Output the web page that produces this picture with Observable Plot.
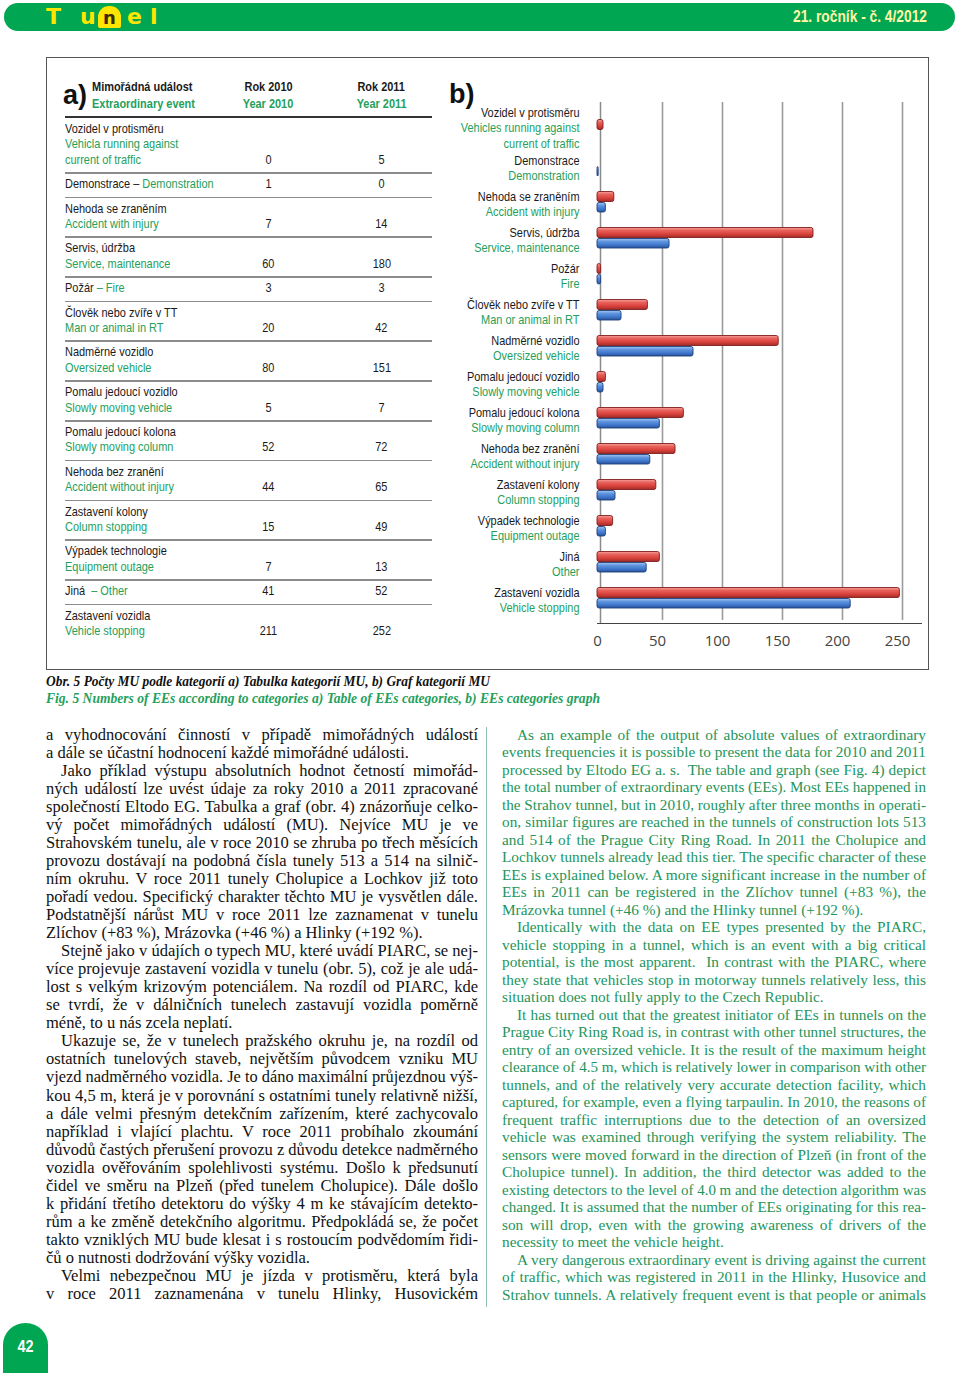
<!DOCTYPE html>
<html><head><meta charset="utf-8">
<script src="https://cdn.jsdelivr.net/npm/d3@7"></script>
<script src="https://cdn.jsdelivr.net/npm/@observablehq/plot@0.6"></script>
<style>
body{margin:0;background:#fff;}
#page{position:relative;width:960px;height:1373px;overflow:hidden;font-family:"Liberation Sans",Arial,sans-serif;}
.abs{position:absolute;white-space:nowrap;}
</style></head><body><div id="page"></div>
<script>
// ---------------- DATA ----------------
const categoriesCz = ["Vozidel v protisměru","Demonstrace","Nehoda se zraněním","Servis, údržba","Požár","Člověk nebo zvíře v TT","Nadměrné vozidlo","Pomalu jedoucí vozidlo","Pomalu jedoucí kolona","Nehoda bez zranění","Zastavení kolony","Výpadek technologie","Jiná","Zastavení vozidla"];
const categoriesEn = ["Vehicles running against\ncurrent of traffic","Demonstration","Accident with injury","Service, maintenance","Fire","Man or animal in RT","Oversized vehicle","Slowly moving vehicle","Slowly moving column","Accident without injury","Column stopping","Equipment outage","Other","Vehicle stopping"];
const tableCz = ["Vozidel v protisměru","Demonstrace – ","Nehoda se zraněním","Servis, údržba","Požár ","Člověk nebo zvíře v TT","Nadměrné vozidlo","Pomalu jedoucí vozidlo","Pomalu jedoucí kolona","Nehoda bez zranění","Zastavení kolony","Výpadek technologie","Jiná  ","Zastavení vozidla"];
const tableEn = ["Vehicla running against\ncurrent of traffic","Demonstration","Accident with injury","Service, maintenance","– Fire","Man or animal in RT","Oversized vehicle","Slowly moving vehicle","Slowly moving column","Accident without injury","Column stopping","Equipment outage","– Other","Vehicle stopping"];
const tableInline = [1,4,12];
const values2010 = [0,1,7,60,3,20,80,5,52,44,15,7,41,211];
const values2011 = [5,0,14,180,3,42,151,7,72,65,49,13,52,252];
const xTicks = [0,50,100,150,200,250];

const leftLines = [
"a vyhodnocování činností v případě mimořádných událostí",
"a dále se účastní hodnocení každé mimořádné události.",
"Jako příklad výstupu absolutních hodnot četností mimořád-",
"ných událostí lze uvést údaje za roky 2010 a 2011 zpracované",
"společností Eltodo EG. Tabulka a graf (obr. 4) znázorňuje celko-",
"vý počet mimořádných událostí (MU). Nejvíce MU je ve",
"Strahovském tunelu, ale v roce 2010 se zhruba po třech měsících",
"provozu dostávají na podobná čísla tunely 513 a 514 na silnič-",
"ním okruhu. V roce 2011 tunely Cholupice a Lochkov již toto",
"pořadí vedou. Specifický charakter těchto MU je vysvětlen dále.",
"Podstatnější nárůst MU v roce 2011 lze zaznamenat v tunelu",
"Zlíchov (+83 %), Mrázovka (+46 %) a Hlinky (+192 %).",
"Stejně jako v údajích o typech MU, které uvádí PIARC, se nej-",
"více projevuje zastavení vozidla v tunelu (obr. 5), což je ale udá-",
"lost s velkým krizovým potenciálem. Na rozdíl od PIARC, kde",
"se tvrdí, že v dálničních tunelech zastavují vozidla poměrně",
"méně, to u nás zcela neplatí.",
"Ukazuje se, že v tunelech pražského okruhu je, na rozdíl od",
"ostatních tunelových staveb, největším původcem vzniku MU",
"vjezd nadměrného vozidla. Je to dáno maximální průjezdnou výš-",
"kou 4,5 m, která je v porovnání s ostatními tunely relativně nižší,",
"a dále velmi přesným detekčním zařízením, které zachycovalo",
"například i vlající plachtu. V roce 2011 probíhalo zkoumání",
"důvodů častých přerušení provozu z důvodu detekce nadměrného",
"vozidla ověřováním spolehlivosti systému. Došlo k předsunutí",
"čidel ve směru na Plzeň (před tunelem Cholupice). Dále došlo",
"k přidání třetího detektoru do výšky 4 m ke stávajícím detekto-",
"rům a ke změně detekčního algoritmu. Předpokládá se, že počet",
"takto vzniklých MU bude klesat i s rostoucím podvědomím řidi-",
"čů o nutnosti dodržování výšky vozidla.",
"Velmi nebezpečnou MU je jízda v protisměru, která byla",
"v roce 2011 zaznamenána v tunelu Hlinky, Husovickém"];
const leftIndent = [2,12,17,30], leftEnd = [1,11,16,29];
const rightLines = [
"As an example of the output of absolute values of extraordinary",
"events frequencies it is possible to present the data for 2010 and 2011",
"processed by Eltodo EG a. s.  The table and graph (see Fig. 4) depict",
"the total number of extraordinary events (EEs). Most EEs happened in",
"the Strahov tunnel, but in 2010, roughly after three months in operati-",
"on, similar figures are reached in the tunnels of construction lots 513",
"and 514 of the Prague City Ring Road. In 2011 the Cholupice and",
"Lochkov tunnels already lead this tier. The specific character of these",
"EEs is explained below. A more significant increase in the number of",
"EEs in 2011 can be registered in the Zlíchov tunnel (+83 %), the",
"Mrázovka tunnel (+46 %) and the Hlinky tunnel (+192 %).",
"Identically with the data on EE types presented by the PIARC,",
"vehicle stopping in a tunnel, which is an event with a big critical",
"potential, is the most apparent.  In contrast with the PIARC, where",
"they state that vehicles stop in motorway tunnels relatively less, this",
"situation does not fully apply to the Czech Republic.",
"It has turned out that the greatest initiator of EEs in tunnels on the",
"Prague City Ring Road is, in contrast with other tunnel structures, the",
"entry of an oversized vehicle. It is the result of the maximum height",
"clearance of 4.5 m, which is relatively lower in comparison with other",
"tunnels, and of the relatively very accurate detection facility, which",
"captured, for example, even a flying tarpaulin. In 2010, the reasons of",
"frequent traffic interruptions due to the detection of an oversized",
"vehicle was examined through verifying the system reliability. The",
"sensors were moved forward in the direction of Plzeň (in front of the",
"Cholupice tunnel). In addition, the third detector was added to the",
"existing detectors to the level of 4.0 m and the detection algorithm was",
"changed. It is assumed that the number of EEs originating for this rea-",
"son will drop, even with the growing awareness of drivers of the",
"necessity to meet the vehicle height.",
"A very dangerous extraordinary event is driving against the current",
"of traffic, which was registered in 2011 in the Hlinky, Husovice and",
"Strahov tunnels. A relatively frequent event is that people or animals"];
const rightIndent = [0,11,16,30], rightEnd = [10,15,29];

// ---------------- STYLE ----------------
const GREEN = "#00a651";
const TXT_GREEN = "#25a05c";
const BLACK = "#1a1a1a";
const LBL_FONT = '"Liberation Sans Narrow","Arial Narrow","Liberation Sans",Arial,sans-serif';
const ctx = document.createElement("canvas").getContext("2d");
ctx.font = `13px ${LBL_FONT}`;
const nf = Math.min(1.1, 109 / ctx.measureText("Accident without injury").width);

const page = document.getElementById("page");
function el(tag, css, txt, parent = page) {
  const d = document.createElement(tag);
  if (tag === "div") d.className = "abs";
  Object.assign(d.style, css);
  if (txt != null) d.textContent = txt;
  parent.appendChild(d);
  return d;
}
function fit(span, target) {
  const w = span.getBoundingClientRect().width;
  span.style.transform = `scaleX(${target / w})`;
}

// ---------------- HEADER ----------------
el("div", {left: "4px", top: "3px", width: "951px", height: "28px", borderRadius: "14px", background: GREEN});
const logoCss = {top: "5px", fontFamily: '"DejaVu Sans",sans-serif', fontWeight: "bold", fontSize: "22px", lineHeight: "24px", color: "#ffe600"};
el("div", {...logoCss, left: "46px"}, "T");
el("div", {...logoCss, left: "80px"}, "u");
const nbox = el("div", {left: "98px", top: "6px", width: "23px", height: "22px", borderRadius: "11px 11px 2px 2px", background: "#ffe600", textAlign: "center"});
el("span", {fontFamily: '"DejaVu Sans",sans-serif', fontWeight: "bold", fontSize: "18px", lineHeight: "24px", color: "#3d2b0a"}, "n", nbox);
el("div", {...logoCss, left: "127px"}, "e");
el("div", {...logoCss, left: "150px"}, "l");
const hdr = el("div", {left: "793px", top: "6px", fontSize: "17px", lineHeight: "22px", fontWeight: "bold", color: "#fff8a8"});
const hdrSpan = el("span", {display: "inline-block", transformOrigin: "0 0"}, "21. ročník - č. 4/2012", hdr);
fit(hdrSpan, 134);

// ---------------- FRAME ----------------
el("div", {left: "46px", top: "57px", width: "881px", height: "611px", border: "1px solid #555"});

// ---------------- TABLE (a) ----------------
function lbl(txt, x, cy, opts = {}) {
  const d = el("div", {left: x + "px", top: (cy - 8) + "px", fontFamily: LBL_FONT, fontSize: "13px", lineHeight: "16px",
    color: opts.color || BLACK, fontWeight: opts.bold ? "bold" : "normal"});
  const s = el("span", {display: "inline-block", transform: `scaleX(${nf})`, transformOrigin: "0 0", whiteSpace: "pre"}, null, d);
  if (opts.parts) opts.parts.forEach(p => el("span", {color: p.c}, p.t, s)); else s.textContent = txt;
  return d;
}
function num(txt, cx, cy, opts = {}) {
  const d = el("div", {left: (cx - 40) + "px", width: "80px", textAlign: "center", top: (cy - 8) + "px", fontFamily: LBL_FONT,
    fontSize: "13px", lineHeight: "16px", color: opts.color || BLACK, fontWeight: opts.bold ? "bold" : "normal"});
  el("span", {display: "inline-block", transform: `scaleX(${nf})`, transformOrigin: "50% 0"}, txt, d);
}
el("div", {left: "63px", top: "80px", fontFamily: '"Liberation Sans",Arial,sans-serif', fontSize: "27px", lineHeight: "30px", fontWeight: "bold", color: "#111"}, "a)");
lbl("Mimořádná událost", 92, 87, {bold: true});
lbl("Extraordinary event", 92, 104, {bold: true, color: TXT_GREEN});
num("Rok 2010", 268.5, 87, {bold: true});
num("Year 2010", 268.5, 104, {bold: true, color: TXT_GREEN});
num("Rok 2011", 381.5, 87, {bold: true});
num("Year 2011", 381.5, 104, {bold: true, color: TXT_GREEN});
el("div", {left: "65px", top: "116px", width: "367px", height: "2px", background: "#333"});
let rowTop = 118;
tableCz.forEach((cz, i) => {
  let lines;
  if (tableInline.includes(i)) {
    lines = [{parts: [{t: cz, c: BLACK}, {t: tableEn[i], c: TXT_GREEN}]}];
  } else {
    lines = [{t: cz, c: BLACK}, ...tableEn[i].split("\n").map(t => ({t, c: TXT_GREEN}))];
  }
  const n = lines.length;
  lines.forEach((ln, k) => {
    const cy = rowTop + 11 + 15.4 * k;
    if (ln.parts) lbl(null, 65, cy, {parts: ln.parts}); else lbl(ln.t, 65, cy, {color: ln.c});
  });
  const lastCy = rowTop + 11 + 15.4 * (n - 1);
  num(String(values2010[i]), 268.5, lastCy);
  num(String(values2011[i]), 381.5, lastCy);
  const h = 9 + 15.4 * n;
  rowTop += h;
  if (i < tableCz.length - 1) el("div", {left: "65px", top: (rowTop - 1) + "px", width: "367px", height: "1.6px", background: "#8c8c8c"});
});

// ---------------- CHART (b) ----------------
el("div", {left: "449px", top: "79px", fontFamily: '"Liberation Sans",Arial,sans-serif', fontSize: "27px", lineHeight: "30px", fontWeight: "bold", color: "#111"}, "b)");
const data = categoriesCz.map((c, i) => ({cat: c, en: categoriesEn[i], v2010: values2010[i], v2011: values2011[i], first: i === 0}));
const labelOpts = {y: "cat", frameAnchor: "left", textAnchor: "end", dx: -18, lineAnchor: "middle", lineHeight: 1.19, fontSize: 13, fontFamily: LBL_FONT};
const czText = d => d.cat + "\n".repeat(d.en.split("\n").length);
const enText = d => "\n" + d.en;
const chart = Plot.plot({
  width: 480, height: 585,
  marginLeft: 150, marginRight: 6, marginTop: 32, marginBottom: 40,
  style: {background: "transparent", fontFamily: '"Open Sans",sans-serif', fontSize: "15px", color: "#444", overflow: "visible"},
  x: {domain: [0, 270], ticks: xTicks, tickSize: 0, tickPadding: 12, line: true, label: null},
  y: {domain: categoriesCz, axis: null, padding: 0},
  marks: [
    Plot.ruleX(xTicks.slice(1), {stroke: "#9a9a9a", strokeWidth: 1.6, dx: 5, insetTop: -8, insetBottom: 3}),
    Plot.ruleX([0], {stroke: "#8a8a8a", strokeWidth: 1.5, dx: 3, insetTop: -8}),
    Plot.barX(data, {y: "cat", x: "v2011", fill: "url(#gRed)", stroke: "#7d1f1d", strokeWidth: 0.9, insetTop: 4.5, insetBottom: 21.5, rx: 2}),
    Plot.barX(data, {y: "cat", x: "v2010", fill: "url(#gBlue)", stroke: "#1c3f7c", strokeWidth: 0.9, insetTop: 15.5, insetBottom: 11, rx: 2}),
    Plot.text(data, {...labelOpts, filter: d => !d.first, text: czText, dy: -2, fill: BLACK}),
    Plot.text(data, {...labelOpts, filter: d => !d.first, text: enText, dy: -2, fill: TXT_GREEN}),
    Plot.text(data, {...labelOpts, filter: d => d.first, text: czText, dy: -6, fill: BLACK}),
    Plot.text(data, {...labelOpts, filter: d => d.first, text: enText, dy: -6, fill: TXT_GREEN})
  ]
});
const svg = chart.tagName.toLowerCase() === "svg" ? chart : chart.querySelector("svg");
const defs = d3.select(svg).insert("defs", ":first-child");
function grad(id, stops) {
  const g = defs.append("linearGradient").attr("id", id).attr("x1", 0).attr("y1", 0).attr("x2", 0).attr("y2", 1);
  stops.forEach(([o, c]) => g.append("stop").attr("offset", o).attr("stop-color", c));
}
grad("gRed", [["0%", "#f5a29b"], ["30%", "#e8605a"], ["65%", "#d9423d"], ["100%", "#a32a27"]]);
grad("gBlue", [["0%", "#a7c8f3"], ["30%", "#6296de"], ["65%", "#4079cf"], ["100%", "#2b5499"]]);
svg.querySelectorAll('g[aria-label="text"] text').forEach(t => {
  const tr = t.getAttribute("transform");
  if (tr) t.setAttribute("transform", tr + ` scale(${nf},1)`);
  else { t.style.transformBox = "fill-box"; t.style.transformOrigin = "100% 50%"; t.style.transform = `scaleX(${nf})`; }
});
const holder = el("div", {left: "447px", top: "78px"});
holder.appendChild(chart);

// ---------------- CAPTION ----------------
const capCss = {left: "46px", fontFamily: '"Liberation Serif","Times New Roman",serif', fontStyle: "italic", fontWeight: "bold", fontSize: "14px", lineHeight: "16px"};
const c1 = el("div", {...capCss, top: "674px", color: "#111"});
fit(el("span", {display: "inline-block", transformOrigin: "0 0"}, "Obr. 5 Počty MU podle kategorií a) Tabulka kategorií MU, b) Graf kategorií MU", c1), 444);
const c2 = el("div", {...capCss, top: "691px", color: TXT_GREEN});
fit(el("span", {display: "inline-block", transformOrigin: "0 0"}, "Fig. 5 Numbers of EEs according to categories a) Table of EEs categories, b) EEs categories graph", c2), 554);

// ---------------- BODY TEXT ----------------
function column(lines, indent, ends, left, width, y0, pitch, color, size) {
  lines.forEach((txt, i) => {
    const ind = indent.includes(i) ? 15 : 0;
    const W = width - ind;
    const d = el("div", {left: (left + ind) + "px", top: (y0 + pitch * i - 10.5) + "px", fontFamily: '"Liberation Serif","Times New Roman",serif',
      fontSize: size + "px", lineHeight: "19px", color});
    const s = el("span", {display: "inline-block", transformOrigin: "0 0", whiteSpace: "pre"}, txt, d);
    const w = s.getBoundingClientRect().width;
    if (w > W) s.style.transform = `scaleX(${W / w})`;
    else if (!ends.includes(i)) {
      const n = (txt.match(/ /g) || []).length;
      if (n) s.style.wordSpacing = ((W - w) / n) + "px";
    }
  });
}
column(leftLines, leftIndent, leftEnd, 46, 432, 735, 18.05, "#111", 16.5);
column(rightLines, rightIndent, rightEnd, 502, 424, 735, 17.5, "#23955a", 15.3);
el("div", {left: "486px", top: "727px", width: "1px", height: "580px", background: "#8fbfa9"});

// ---------------- PAGE NUMBER ----------------
const pn = el("div", {left: "3px", top: "1323px", width: "45px", height: "60px", borderRadius: "22px 22px 0 0", background: GREEN, textAlign: "center"});
el("span", {display: "inline-block", marginTop: "14px", fontFamily: '"Liberation Sans",Arial,sans-serif', fontWeight: "bold", fontSize: "17px", color: "#fff", transform: "scaleX(0.85)"}, "42", pn);
</script>
</body></html>
